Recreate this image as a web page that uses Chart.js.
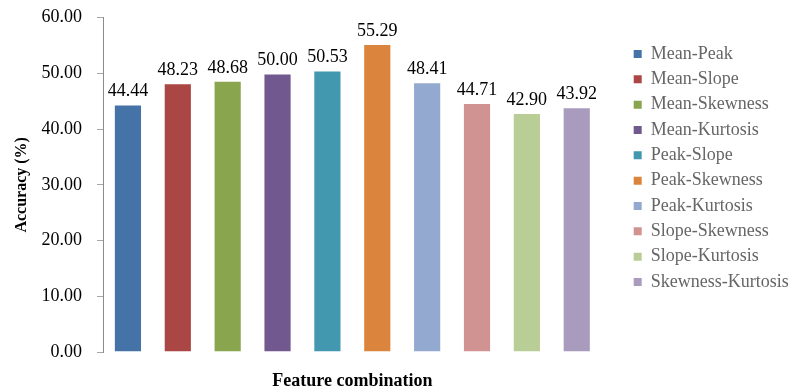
<!DOCTYPE html>
<html>
<head>
<meta charset="utf-8">
<script src="https://cdn.jsdelivr.net/npm/chart.js@4/dist/chart.umd.min.js"></script>
<style>
  html, body { margin: 0; padding: 0; background: #fff; }
  #wrap { width: 790px; height: 392px; }
</style>
</head>
<body>
<div id="wrap"><canvas id="chart" width="790" height="392"></canvas></div>
<script>
// Feature combinations and their classification accuracy (%)
const categories = [
  'Mean-Peak', 'Mean-Slope', 'Mean-Skewness', 'Mean-Kurtosis', 'Peak-Slope',
  'Peak-Skewness', 'Peak-Kurtosis', 'Slope-Skewness', 'Slope-Kurtosis', 'Skewness-Kurtosis'
];
const accuracy = [44.44, 48.23, 48.68, 50.00, 50.53, 55.29, 48.41, 44.71, 42.90, 43.92];
const barColors = [
  '#4572A7', '#AA4643', '#89A54E', '#71588F', '#4198AF',
  '#DB843D', '#93A9CF', '#D19392', '#B9CD96', '#A99BBD'
];
const yTicks = { min: 0, max: 60, step: 10 };
const axisTitles = { x: 'Feature combination', y: 'Accuracy (%)' };

const SERIF = '"Liberation Serif", "Times New Roman", serif';

// Writes each bar's value just above it
const valueLabels = {
  id: 'valueLabels',
  afterDatasetsDraw(chart) {
    const ctx = chart.ctx;
    const meta = chart.getDatasetMeta(0);
    ctx.save();
    ctx.font = '18px ' + SERIF;
    ctx.fillStyle = '#000';
    ctx.textAlign = 'center';
    ctx.textBaseline = 'alphabetic';
    meta.data.forEach((bar, i) => {
      const v = chart.data.datasets[0].data[i];
      ctx.fillText(v.toFixed(2), bar.x, bar.y - 8);
    });
    ctx.restore();
  }
};

new Chart(document.getElementById('chart'), {
  type: 'bar',
  data: {
    labels: categories,
    datasets: [{
      data: accuracy,
      backgroundColor: barColors,
      borderColor: 'rgba(255,255,255,0.35)',
      borderWidth: 1,
      barPercentage: 0.565,
      categoryPercentage: 1.0
    }]
  },
  options: {
    responsive: false,
    animation: false,
    events: [],
    layout: { padding: { top: 0, right: -8.7, left: 0, bottom: 0 } },
    plugins: {
      tooltip: { enabled: false },
      legend: {
        position: 'right',
        align: 'start',
        maxWidth: 200,
        onClick: null,
        title: { display: true, text: '', font: { size: 10, lineHeight: 1 }, padding: { top: 27.67, bottom: 0 } },
        labels: {
          boxWidth: 8,
          boxHeight: 8,
          padding: 7.33,
          color: '#000',
          font: { family: SERIF, size: 18, lineHeight: 1.2 },
          generateLabels: () => categories.map((c, i) => ({
            text: c,
            fillStyle: barColors[i],
            strokeStyle: barColors[i],
            lineWidth: 0,
            hidden: false,
            index: i,
            datasetIndex: 0
          }))
        }
      }
    },
    scales: {
      x: {
        grid: { display: false, drawTicks: false },
        border: { display: false },
        ticks: { display: false },
        title: {
          display: true,
          text: axisTitles.x,
          color: '#000',
          font: { family: SERIF, size: 18, weight: 'bold', lineHeight: 1.2 },
          padding: { top: 18.4, bottom: 0 }
        }
      },
      y: {
        min: yTicks.min,
        max: yTicks.max,
        afterFit: (s) => { s.width = 103; },
        grid: {
          display: true,
          drawOnChartArea: false,
          drawTicks: true,
          tickLength: 6,
          color: '#a6a6a6'
        },
        border: { display: true, color: '#8c8c8c', width: 1 },
        ticks: {
          stepSize: yTicks.step,
          padding: 15,
          color: '#000',
          font: { family: SERIF, size: 18, lineHeight: 0.3 },
          callback: (v) => Number(v).toFixed(2)
        },
        title: {
          display: true,
          text: axisTitles.y,
          color: '#000',
          font: { family: SERIF, size: 16, weight: 'bold', lineHeight: 1.2 },
          padding: { top: 12, bottom: 0 }
        }
      },
      // spacer between plot and legend
      gap: {
        position: 'right',
        display: true,
        grid: { display: false, drawTicks: false },
        border: { display: false },
        ticks: { display: false },
        afterFit: (s) => { s.width = 24.7; }
      }
    }
  },
  plugins: [valueLabels]
});
</script>
</body>
</html>
